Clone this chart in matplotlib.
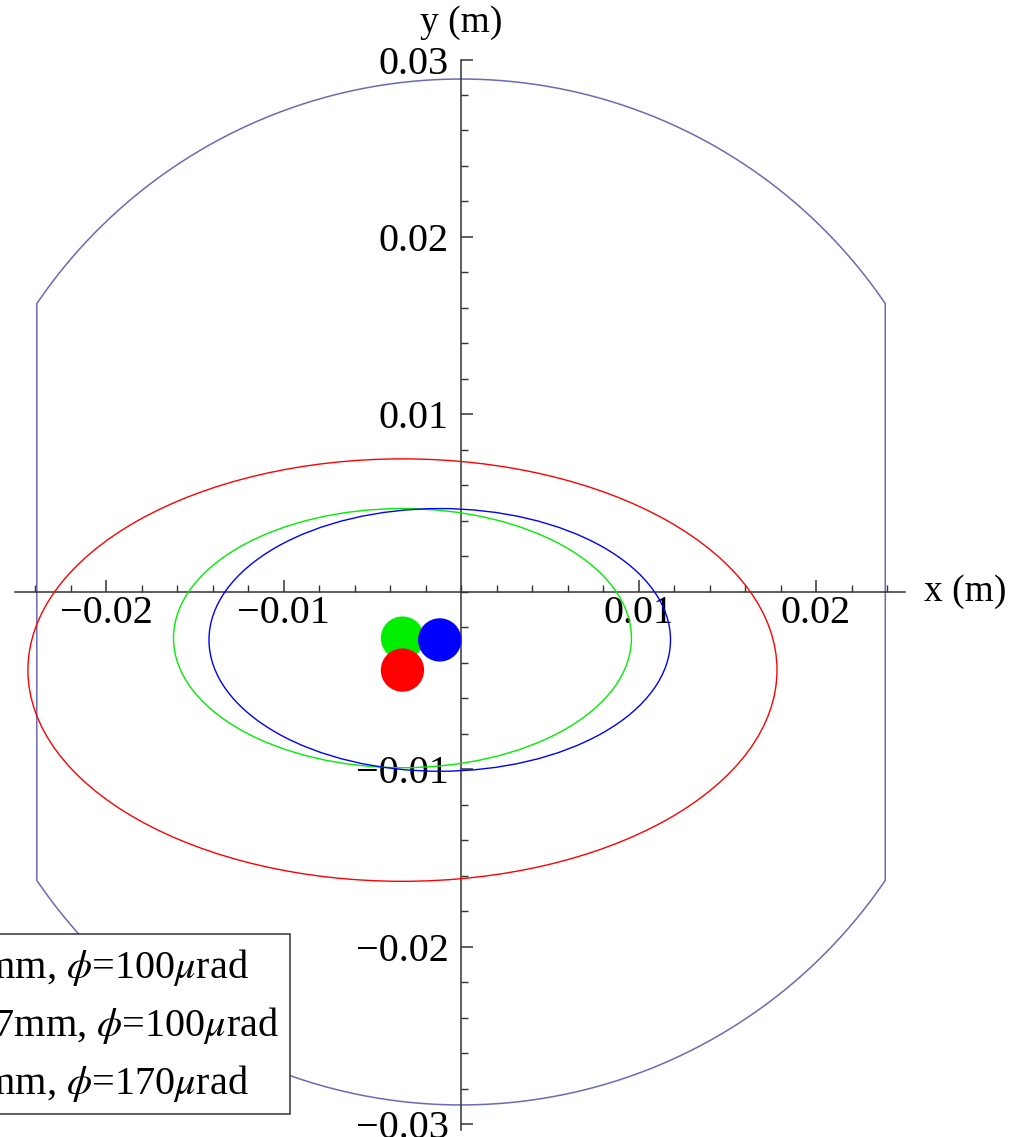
import numpy as np
import matplotlib
matplotlib.use("Agg")
import matplotlib.pyplot as plt
from matplotlib.patches import Ellipse, Circle, Rectangle

plt.rcParams['font.family'] = ['Liberation Serif', 'DejaVu Serif']
plt.rcParams['mathtext.fontset'] = 'stix'

# beam envelopes (red, green, blue): centre and semi-axes in m
colors = ['#ff0000', '#00ee00', '#0000ff']
center_x = [-0.0033, -0.0033, -0.0012]
center_y = [-0.0044, -0.0026, -0.0027]
semi_a = [0.0211, 0.0129, 0.0130]
semi_b = [0.0119, 0.0073, 0.0074]
dot_r = 0.00122

# aperture: circle clipped by two flat sides
ap_r = 0.0289
ap_flat = 0.0239

legend_labels = [r'a=2mm, $\phi$=100$\mu$rad',
                 r'a=1.7mm, $\phi$=100$\mu$rad',
                 r'a=2mm, $\phi$=170$\mu$rad']

xticks = [-0.02, -0.01, 0.01, 0.02]
xticklabels = ['\u22120.02', '\u22120.01', '0.01', '0.02']
yticks = [-0.03, -0.02, -0.01, 0.01, 0.02, 0.03]
yticklabels = ['\u22120.03', '\u22120.02', '\u22120.01', '0.01', '0.02', '0.03']

W, H = 1017, 1137
fig = plt.figure(figsize=(W / 100, H / 100), dpi=100)
ax = fig.add_axes([15.5 / W, (H - 1129.8) / H, 889.3 / W, 1070.3 / H])
ax.set_xlim(-0.0251, 0.0250)
ax.set_ylim(-0.0303, 0.0300)

# aperture outline
t = np.linspace(0, 2 * np.pi, 1441)
ax.plot(np.clip(ap_r * np.cos(t), -ap_flat, ap_flat), ap_r * np.sin(t),
        color='#6a6ab8', lw=1.1, zorder=2)

for cx, cy, a, b, c in zip(center_x, center_y, semi_a, semi_b, colors):
    ax.add_patch(Ellipse((cx, cy), 2 * a, 2 * b, fill=False, ec=c, lw=1.0, zorder=3))

# beam spots (green first, then blue, red on top)
for i in [1, 2, 0]:
    ax.add_patch(Circle((center_x[i], center_y[i]), dot_r, color=colors[i], lw=0, zorder=4))

for s in ['top', 'right']:
    ax.spines[s].set_visible(False)
for s in ['left', 'bottom']:
    ax.spines[s].set_position(('data', 0))
    ax.spines[s].set_color('#333333')
    ax.spines[s].set_linewidth(1.1)

ax.set_xticks(xticks)
ax.set_xticklabels(xticklabels)
ax.set_yticks(yticks)
ax.set_yticklabels(yticklabels)
ax.set_xticks(np.arange(-0.024, 0.0241, 0.002), minor=True)
ax.set_yticks(np.arange(-0.030, 0.0301, 0.002), minor=True)
ax.tick_params(which='major', direction='in', length=8.5, width=1.1, color='#333333',
               labelsize=29)
ax.tick_params(which='minor', direction='in', length=5, width=1.0, color='#333333')
ax.tick_params(axis='x', pad=2)
ax.tick_params(axis='y', pad=9)

ax.annotate('x (m)', xy=(1, 0), xycoords=('axes fraction', 'data'),
            xytext=(14, 0), textcoords='offset points', ha='left', va='center',
            fontsize=27)
ax.annotate('y (m)', xy=(0, 1), xycoords=('data', 'axes fraction'),
            xytext=(0, 14), textcoords='offset points', ha='center', va='bottom',
            fontsize=27, annotation_clip=False)

# legend box, partly outside the figure on the left
fig.patches.append(Rectangle((-300 / W, (H - 1114) / H), 590 / W, 180 / H,
                             transform=fig.transFigure, fill=True, fc='white',
                             ec='#333333', lw=1.1, zorder=5))
for lab, ypx in zip(legend_labels, [967, 1025, 1083]):
    fig.text(-77 / W, (H - ypx) / H, lab, ha='left', va='center', fontsize=29, zorder=6)

fig.savefig('out.png', dpi=100)
